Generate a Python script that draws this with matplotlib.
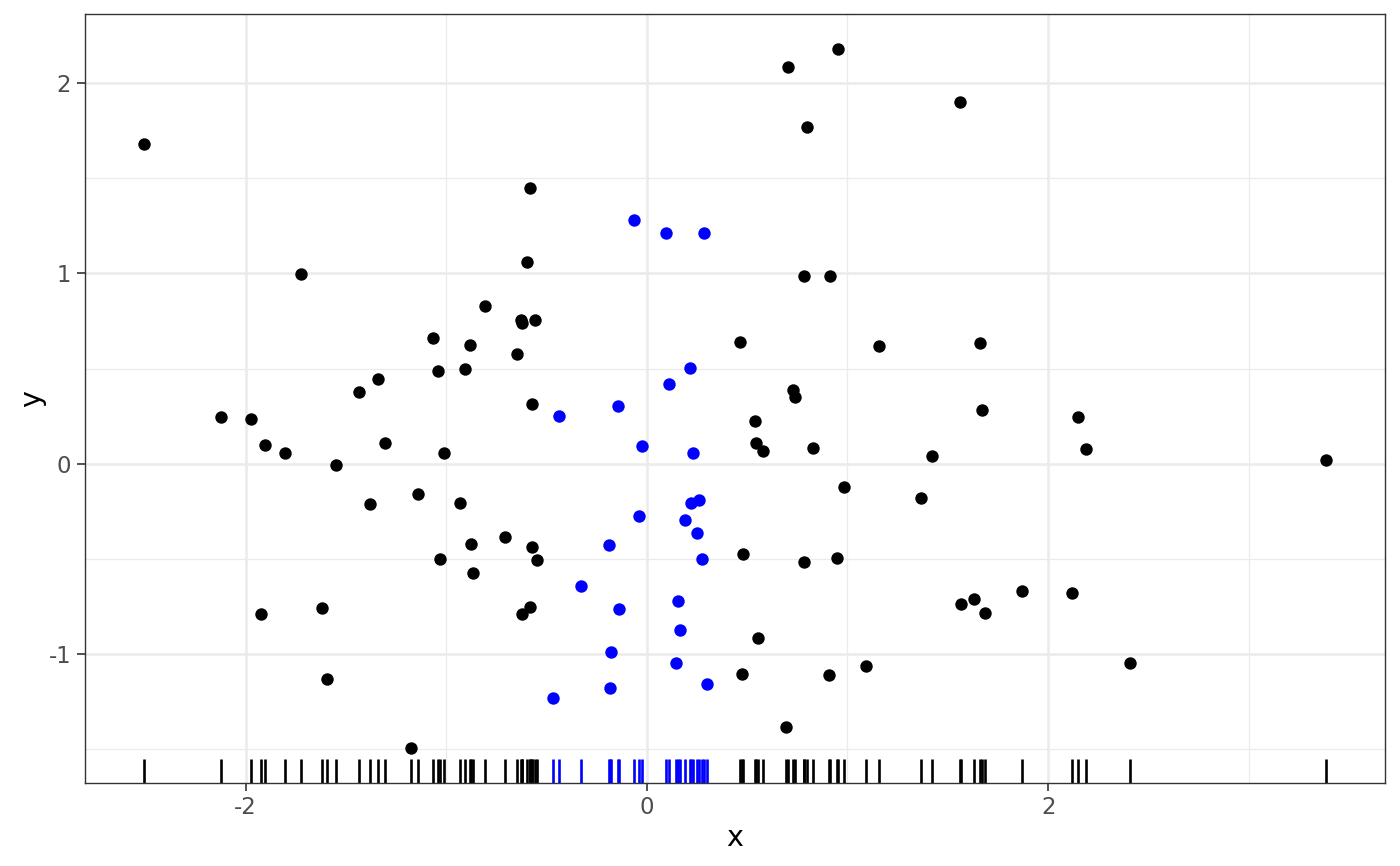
import matplotlib
matplotlib.use("Agg")
import matplotlib.pyplot as plt
import numpy as np

# ---- data ----
x_black = [-2.506, -2.121, -1.972, -1.902, -1.923, -1.805, -1.724, -1.619, -1.594, -1.547,
           -1.433, -1.382, -1.342, -1.306, -1.173, -1.143, -1.068, -1.043, -1.030, -1.010,
           -0.932, -0.907, -0.879, -0.875, -0.864, -0.809, -0.705, -0.646, -0.628, -0.621,
           -0.558, -0.595, -0.581, -0.573, -0.570, -0.548, -0.580, -0.621,
           0.466, 0.478, 0.475, 0.540, 0.545, 0.555, 0.579, 0.696, 0.704, 0.727,
           0.739, 0.785, 0.785, 0.799, 0.829, 0.910, 0.915, 0.953, 0.950, 0.982,
           1.091, 1.159, 1.365, 1.420, 1.563, 1.565, 1.632, 1.662, 1.672, 1.687,
           1.870, 2.121, 2.147, 2.189, 2.410, 3.385]
y_black = [1.682, 0.245, 0.235, 0.096, -0.792, 0.057, 0.999, -0.758, -1.134, -0.009,
           0.377, -0.210, 0.445, 0.108, -1.493, -0.159, 0.662, 0.485, -0.504, 0.056,
           -0.209, 0.495, 0.625, -0.420, -0.576, 0.828, -0.385, 0.578, 0.754, 0.738,
           0.756, 1.061, 1.448, 0.314, -0.437, -0.508, -0.755, -0.793,
           0.639, -0.474, -1.108, 0.224, 0.110, -0.919, 0.067, -1.383, 2.085, 0.389,
           0.348, -0.516, 0.987, 1.768, 0.084, -1.110, 0.984, 2.178, -0.494, -0.121,
           -1.066, 0.620, -0.182, 0.038, 1.901, -0.737, -0.714, 0.632, 0.280, -0.786,
           -0.671, -0.678, 0.247, 0.077, -1.047, 0.021]

x_blue = [-0.062, 0.096, 0.287, 0.214, 0.111, -0.440, -0.143, -0.022, 0.229, 0.221,
          0.262, -0.038, 0.192, 0.252, -0.189, 0.277, -0.329, -0.140, 0.156, 0.164,
          -0.178, 0.144, -0.186, 0.302, -0.467]
y_blue = [1.282, 1.215, 1.212, 0.501, 0.420, 0.251, 0.303, 0.095, 0.054, -0.206,
          -0.191, -0.275, -0.298, -0.366, -0.427, -0.499, -0.641, -0.763, -0.720, -0.873,
          -0.989, -1.050, -1.178, -1.159, -1.233]

x_breaks = [-2, 0, 2]
x_minor = [-1, 1, 3]
y_breaks = [-1, 0, 1, 2]
y_minor = [-1.5, -0.5, 0.5, 1.5]

# ---- figure ----
plt.rcParams['font.family'] = ['DejaVu Sans']
fig = plt.figure(figsize=(7.0, 4.33), dpi=200)
ax = fig.add_axes([0.0607, 0.0964, 0.9286, 0.8869])

all_x = np.array(x_black + x_blue)
all_y = np.array(y_black + y_blue)
xr = all_x.max() - all_x.min()
yr = all_y.max() - all_y.min()
ax.set_xlim(all_x.min() - 0.05 * xr, all_x.max() + 0.05 * xr)
ax.set_ylim(all_y.min() - 0.05 * yr, all_y.max() + 0.05 * yr)

grid_col = "#EBEBEB"
ax.set_xticks(x_breaks)
ax.set_yticks(y_breaks)
ax.set_xticks(x_minor, minor=True)
ax.set_yticks(y_minor, minor=True)
ax.grid(which='major', color=grid_col, linewidth=0.9, zorder=0)
ax.grid(which='minor', color=grid_col, linewidth=0.45, zorder=0)
ax.set_axisbelow(True)

ax.scatter(x_black, y_black, s=20, color="black", linewidths=0, zorder=3)
ax.scatter(x_blue, y_blue, s=20, color="#0000FF", linewidths=0, zorder=3)

trans = ax.get_xaxis_transform()
ax.vlines(x_black, 0, 0.03, transform=trans, colors="black", linewidth=0.95, zorder=2)
ax.vlines(x_blue, 0, 0.03, transform=trans, colors="#0000FF", linewidth=0.95, zorder=2)

for sp in ax.spines.values():
    sp.set_color("#333333")
    sp.set_linewidth(0.5)

ax.tick_params(which='major', length=2.75, width=0.6, color="#333333",
               labelsize=8.2, labelcolor="#4D4D4D", pad=2.2)
ax.tick_params(which='minor', length=0)
ax.set_xticklabels([str(v) for v in x_breaks])
ax.set_yticklabels([str(v) for v in y_breaks])

ax.set_xlabel("x", fontsize=10.3, color="black", labelpad=1.8)
ax.set_ylabel("y", fontsize=10.3, color="black", labelpad=1.0)

fig.savefig("out.png", dpi=200)
